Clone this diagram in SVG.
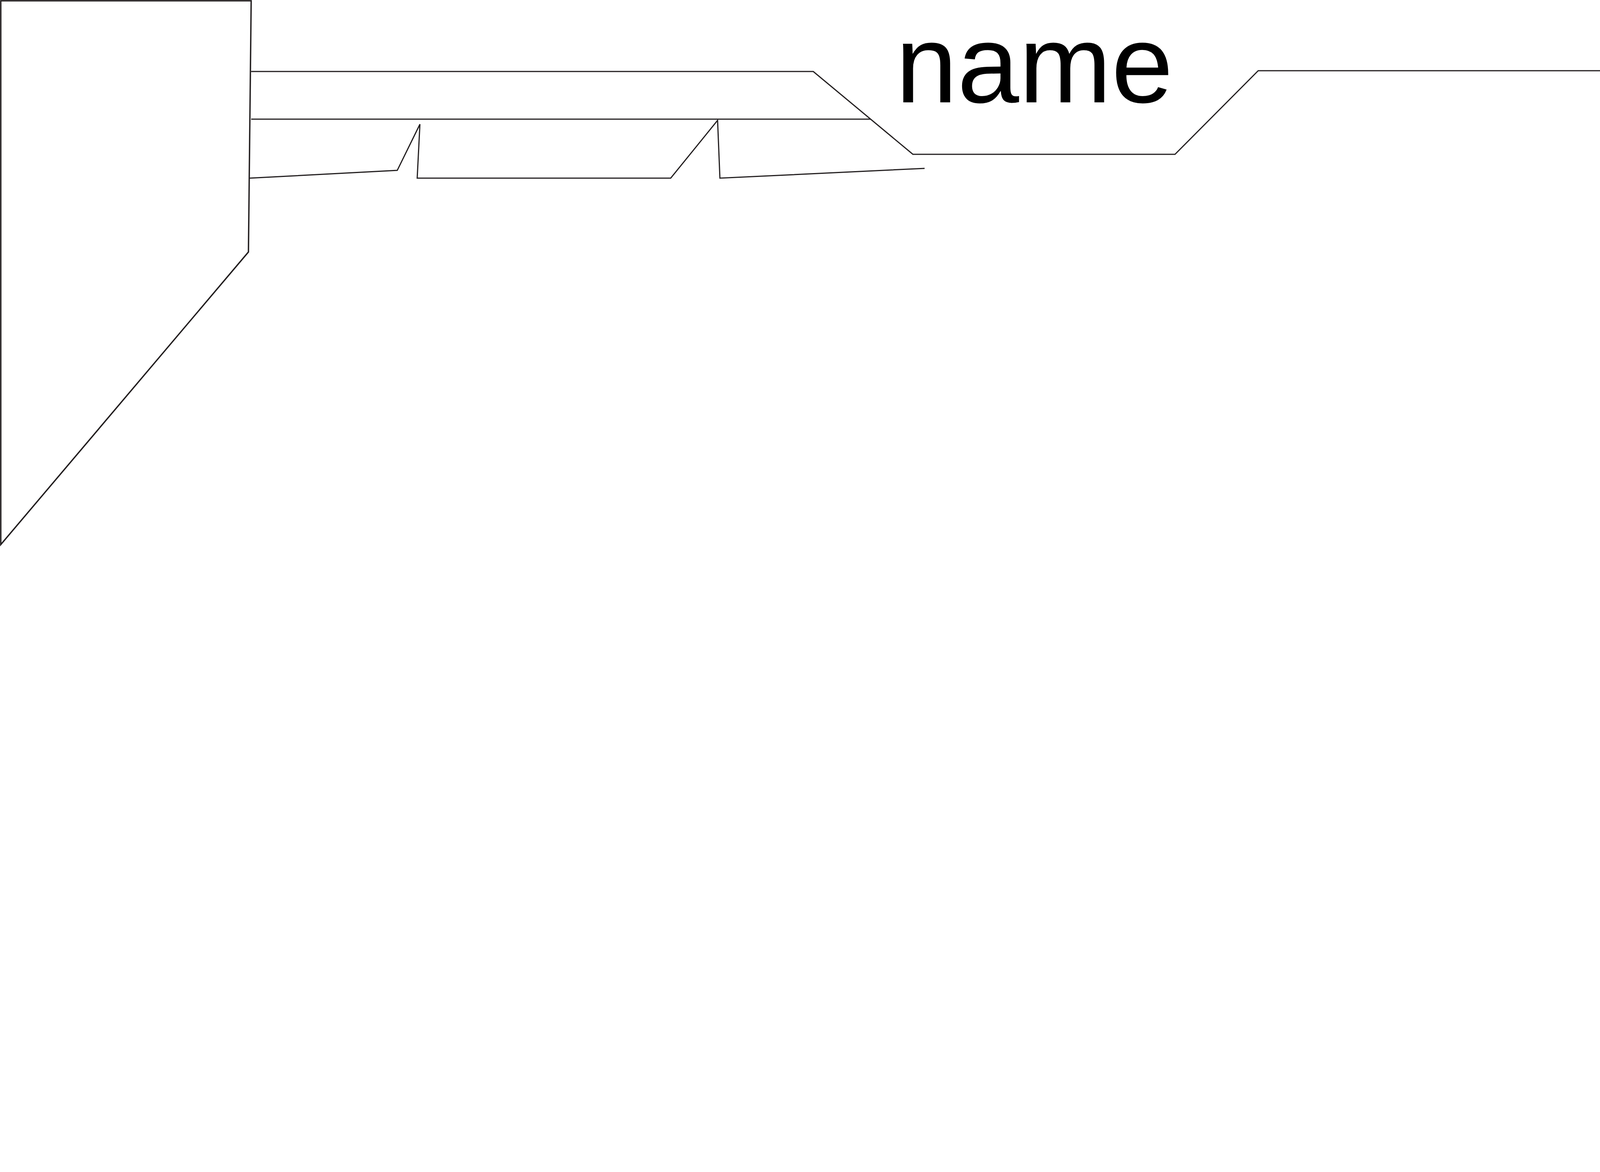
<svg xmlns="http://www.w3.org/2000/svg" width="5333" height="3000" viewBox="0 0 5333 3000">
<style>
.shape{fill:#ffffff;stroke:#231f20;stroke-width:3.5;stroke-linejoin:miter}
.conn{fill:none;stroke:#231f20;stroke-width:3;stroke-linejoin:miter}
.label{font-family:"Liberation Sans",Arial,sans-serif;font-size:284px;fill:#000000}
</style>
<rect x="0" y="0" width="5333" height="3000" fill="#ffffff"/>
<g id="left-node">
<polygon class="shape" points="2,2 643,2 636,645 2,1394"/>
</g>
<g id="right-node">
<rect class="shape" x="4689" y="2" width="642" height="1391"/>
</g>
<g id="connectors">
<polyline class="conn" points="643,183 2082,183 2337,395 3008,395 3221,181 4689,181"/>
<polyline class="conn" points="643,305 2229,305"/>
<polyline class="conn" points="639,456 1017,436 1075,318 1068,456 1717,456 1837,308 1843,456 2367,431"/>
</g>
<g id="label-name">
<text class="label" x="2648" y="262" text-anchor="middle">name</text>
</g>
</svg>
